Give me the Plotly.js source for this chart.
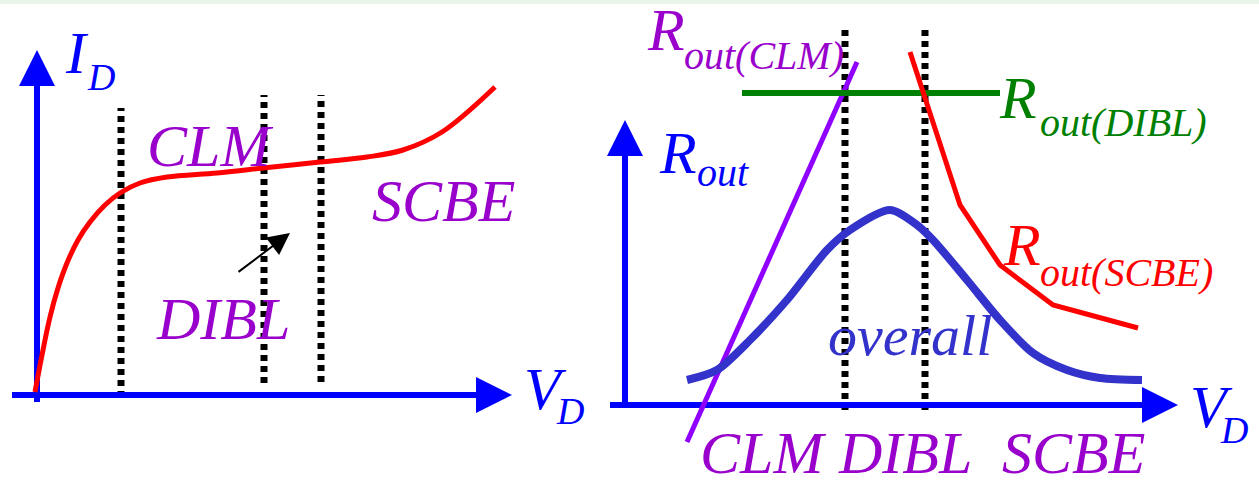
<!DOCTYPE html>
<html>
<head>
<meta charset="utf-8">
<script src="https://cdn.plot.ly/plotly-3.0.1.min.js"></script>
<style>html,body{margin:0;padding:0;background:#fff;}#chart{width:1259px;height:483px;}</style>
</head>
<body>
<div id="chart"></div>
<script>
// ---------- Left panel: I_D vs V_D (arbitrary units) ----------
const idV = [-0.02, 0.05, 0.13, 0.21, 0.30, 0.41, 0.53, 0.68, 0.83, 1.03, 1.30, 1.80, 2.26, 2.83, 3.30, 3.66, 4.05, 4.58];
const idI = [0.03, 0.40, 0.78, 1.07, 1.32, 1.55, 1.73, 1.90, 2.02, 2.12, 2.18, 2.22, 2.27, 2.33, 2.38, 2.45, 2.63, 3.08];
const leftDividers = [0.84, 2.27, 2.84];
const leftDividerTop = [2.87, 3.00, 3.00];
const leftDividerBottom = [-0.02, 0.12, 0.13];
const leftXAxisExtent = [-0.25, 4.75];   // V_D axis start, arrow tip
const leftYAxisExtent = [-0.07, 3.45];   // I_D axis start, arrow tip

// ---------- Right panel: R_out vs V_D (arbitrary units) ----------
const clmV = [0.62, 2.32];
const clmR = [-0.37, 3.43];
const diblV = [1.17, 3.75];
const diblR = [3.12, 3.12];
const scbeV = [2.85, 3.35, 3.75, 4.28, 5.13];
const scbeR = [3.53, 2.00, 1.40, 1.00, 0.77];
const overallV = [0.62, 0.92, 1.25, 1.62, 2.02, 2.25, 2.65, 2.92, 3.08, 3.42, 3.75, 4.08, 4.42, 4.75, 5.17];
const overallR = [0.25, 0.35, 0.65, 1.05, 1.55, 1.75, 1.95, 1.80, 1.65, 1.25, 0.85, 0.52, 0.35, 0.27, 0.25];
const rightDividers = [2.20, 3.00];
const rightDividerTop = [3.75, 3.75];
const rightDividerBottom = [-0.05, -0.05];
const rightXAxisExtent = [-0.15, 5.53];
const rightYAxisExtent = [-0.03, 2.85];

// ---------- layout helpers ----------
const W = 1259, H = 483, PX = 100, SPLIT = 0.47;
const HEAD = 0.36, HALF = 0.18; // arrowhead length / half width (units)
const BLUE = '#0000ff', PURPLE = '#9900cc';
const SERIF = 'Liberation Serif';

function rangeFor(d0, d1, originPx, total) {
  return [(d0 * total - originPx) / PX, (d1 * total - originPx) / PX];
}

const traces = [];
function line(x, y, color, width, xa, ya, extra) {
  traces.push(Object.assign({x: x, y: y, mode: 'lines', xaxis: xa, yaxis: ya,
    line: Object.assign({color: color, width: width}, extra || {}), hoverinfo: 'skip', showlegend: false}));
}
const shapes = [];
function axisArrows(xExt, yExt, xr, yr) {
  const xBase = xExt[1] - HEAD, yBase = yExt[1] - HEAD;
  line([xExt[0], xBase], [0, 0], BLUE, 6, xr, yr);
  line([0, 0], [yExt[0], yBase], BLUE, 6, xr, yr);
  shapes.push({type: 'path', xref: xr, yref: yr, fillcolor: BLUE, line: {width: 0},
    path: `M${xBase},${-HALF} L${xExt[1]},0 L${xBase},${HALF} Z`});
  shapes.push({type: 'path', xref: xr, yref: yr, fillcolor: BLUE, line: {width: 0},
    path: `M${-HALF},${yBase} L0,${yExt[1]} L${HALF},${yBase} Z`});
}
function dividers(xs, tops, bottoms, xr, yr) {
  xs.forEach((v, i) => line([v, v], [bottoms[i], tops[i]], '#000', 7, xr, yr, {dash: '6px,5px'}));
}

// left
dividers(leftDividers, leftDividerTop, leftDividerBottom, 'x', 'y');
axisArrows(leftXAxisExtent, leftYAxisExtent, 'x', 'y');
line(idV, idI, '#ff0000', 5, 'x', 'y', {shape: 'spline', smoothing: 1});

// right
dividers(rightDividers, rightDividerTop, rightDividerBottom, 'x2', 'y2');
axisArrows(rightXAxisExtent, rightYAxisExtent, 'x2', 'y2');
line(clmV, clmR, '#8f00ff', 5, 'x2', 'y2');
line(diblV, diblR, '#008000', 6, 'x2', 'y2');
line(scbeV, scbeR, '#ff0000', 5, 'x2', 'y2');
line(overallV, overallR, '#3333cc', 8, 'x2', 'y2', {shape: 'spline', smoothing: 0.8});

// faint green strip on top edge
shapes.push({type: 'rect', xref: 'paper', yref: 'paper', x0: 0, x1: 1, y0: 1 - 4 / H, y1: 1,
  fillcolor: '#eaf5ea', line: {width: 0}, layer: 'below'});

function lab(text, x, y, size, color, xr, yr) {
  return {text: '<i>' + text + '</i>', x: x, y: y, xref: xr, yref: yr, showarrow: false,
    xanchor: 'center', yanchor: 'middle',
    font: {family: SERIF, size: size, color: color}};
}
const annotations = [
  // left
  lab('I', 0.40, 3.42, 60, BLUE, 'x', 'y'),
  lab('D', 0.64, 3.18, 38, BLUE, 'x', 'y'),
  lab('V', 5.08, 0.06, 60, BLUE, 'x', 'y'),
  lab('D', 5.33, -0.16, 38, BLUE, 'x', 'y'),
  lab('CLM', 1.73, 2.49, 60, PURPLE, 'x', 'y'),
  lab('SCBE', 4.06, 1.94, 60, PURPLE, 'x', 'y'),
  lab('DIBL', 1.86, 0.76, 60, PURPLE, 'x', 'y'),
  {x: 2.53, y: 1.62, ax: 2.00, ay: 1.22, xref: 'x', yref: 'y', axref: 'x', ayref: 'y',
   text: '', showarrow: true, arrowhead: 2, arrowsize: 2.2, arrowwidth: 2, arrowcolor: '#000'},
  // right
  lab('R', 0.41, 3.75, 60, PURPLE, 'x2', 'y2'),
  lab('out(CLM)', 1.39, 3.50, 40, PURPLE, 'x2', 'y2'),
  lab('R', 3.93, 3.07, 60, '#008000', 'x2', 'y2'),
  lab('out(DIBL)', 4.98, 2.83, 40, '#008000', 'x2', 'y2'),
  lab('R', 0.53, 2.52, 60, BLUE, 'x2', 'y2'),
  lab('out', 0.98, 2.33, 40, BLUE, 'x2', 'y2'),
  lab('R', 3.97, 1.60, 60, '#ff0000', 'x2', 'y2'),
  lab('out(SCBE)', 5.01, 1.33, 40, '#ff0000', 'x2', 'y2'),
  lab('overall', 2.85, 0.70, 58, '#3333cc', 'x2', 'y2'),
  lab('CLM', 1.38, -0.48, 60, PURPLE, 'x2', 'y2'),
  lab('DIBL', 2.80, -0.48, 60, PURPLE, 'x2', 'y2'),
  lab('SCBE', 4.48, -0.48, 60, PURPLE, 'x2', 'y2'),
  lab('V', 5.86, -0.02, 60, BLUE, 'x2', 'y2'),
  lab('D', 6.09, -0.25, 38, BLUE, 'x2', 'y2')
];

const hidden = {visible: false, fixedrange: true};
const layout = {
  width: W, height: H, margin: {l: 0, r: 0, t: 0, b: 0},
  font: {family: SERIF},
  paper_bgcolor: '#fff', plot_bgcolor: '#fff', showlegend: false,
  xaxis: Object.assign({domain: [0, SPLIT], range: rangeFor(0, SPLIT, 37, W), anchor: 'y'}, hidden),
  yaxis: Object.assign({domain: [0, 1], range: [-(H - 395) / PX, 395 / PX], anchor: 'x'}, hidden),
  xaxis2: Object.assign({domain: [SPLIT, 1], range: rangeFor(SPLIT, 1, 625, W), anchor: 'y2'}, hidden),
  yaxis2: Object.assign({domain: [0, 1], range: [-(H - 405) / PX, 405 / PX], anchor: 'x2'}, hidden),
  shapes: shapes, annotations: annotations
};
Plotly.newPlot('chart', traces, layout, {displayModeBar: false, staticPlot: true});
</script>
</body>
</html>
